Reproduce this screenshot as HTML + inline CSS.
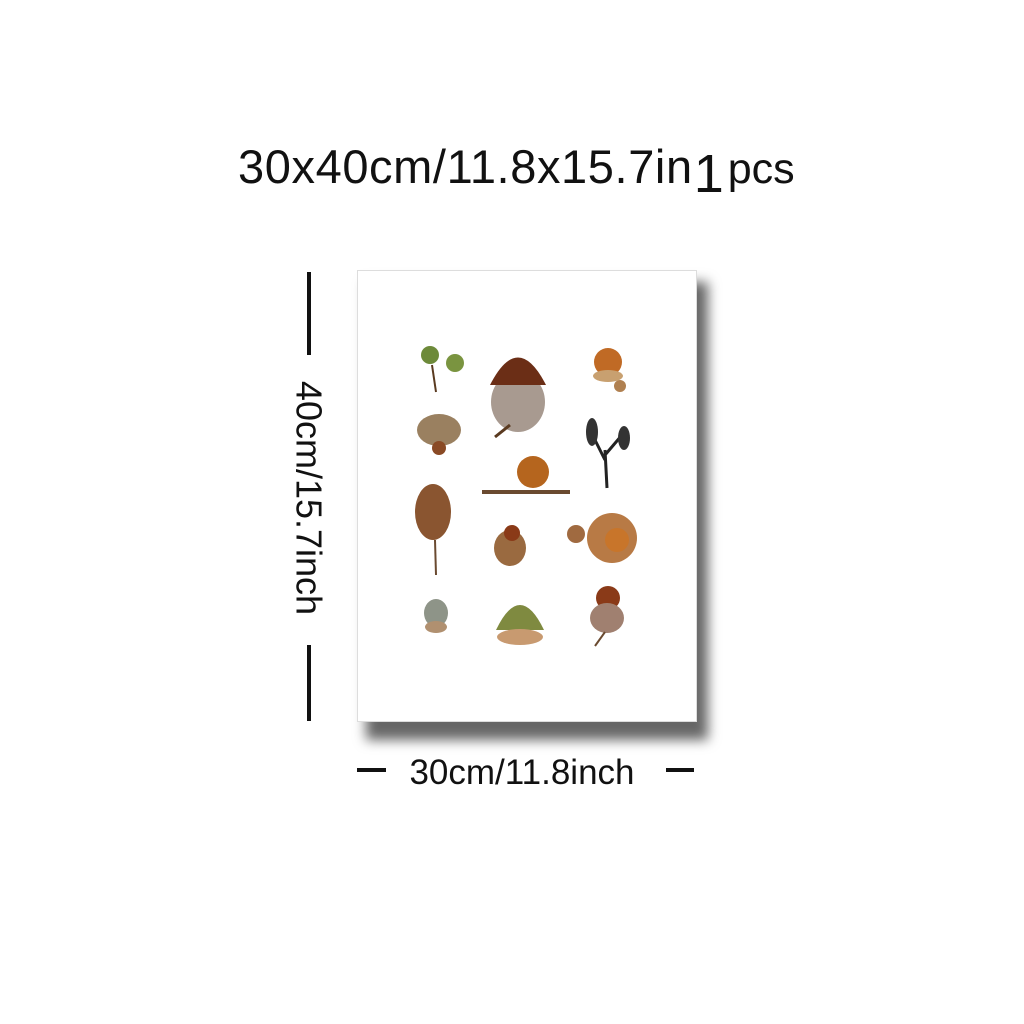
<!DOCTYPE html>
<html><head><meta charset="utf-8"><style>
body{margin:0;width:1024px;height:1024px;background:#fff;position:relative;overflow:hidden;font-family:"Liberation Sans",sans-serif}
.a{position:absolute}
</style></head><body>
<div class="a" style="left:238px;top:137px;font-size:47px;letter-spacing:0.6px;color:#111;white-space:nowrap;line-height:56px">30x40cm/11.8x15.7in<span style="font-size:54px;position:relative;top:9px;margin:0 4px 0 1px;letter-spacing:0">1</span><span style="font-size:43px;letter-spacing:0">pcs</span></div>
<div class="a" style="left:366px;top:282px;width:342px;height:458px;background:#666;filter:blur(6px)"></div>
<div class="a" style="left:357px;top:270px;width:340px;height:452px;background:#fff;border:1px solid #ddd;box-sizing:border-box"></div>
<svg class="a" style="left:0;top:0" width="1024" height="1024">
<g><circle cx="430" cy="355" r="9" fill="#6d8a3a"/><circle cx="455" cy="363" r="9" fill="#7a9440"/><path d="M432 365 L436 392" stroke="#5a3a20" stroke-width="2"/></g>
<g><ellipse cx="518" cy="402" rx="27" ry="30" fill="#a89a90"/><path d="M490 385 Q518 330 546 385 Z" fill="#6b2e16"/><path d="M510 425 L495 437" stroke="#5a3a20" stroke-width="3"/></g>
<g><circle cx="608" cy="362" r="14" fill="#c06a25"/><ellipse cx="608" cy="376" rx="15" ry="6" fill="#c8a070"/><circle cx="620" cy="386" r="6" fill="#b08050"/></g>
<g><ellipse cx="439" cy="430" rx="22" ry="16" fill="#9a8060"/><circle cx="439" cy="448" r="7" fill="#8a4a25"/></g>
<g><path d="M607 488 L605 450 M605 460 L590 430 M605 455 L622 435" stroke="#222" stroke-width="3"/><ellipse cx="592" cy="432" rx="6" ry="14" fill="#333"/><ellipse cx="624" cy="438" rx="6" ry="12" fill="#333"/></g>
<g><circle cx="533" cy="472" r="16" fill="#b5651e"/><path d="M482 492 L570 492" stroke="#6a4a30" stroke-width="4"/></g>
<g><ellipse cx="433" cy="512" rx="18" ry="28" fill="#8a5530"/><path d="M435 540 L436 575" stroke="#6a4a30" stroke-width="2"/></g>
<g><ellipse cx="510" cy="548" rx="16" ry="18" fill="#9a6a40"/><circle cx="512" cy="533" r="8" fill="#8a3a18"/></g>
<g><circle cx="612" cy="538" r="25" fill="#b87a45"/><circle cx="617" cy="540" r="12" fill="#c8752a"/><circle cx="576" cy="534" r="9" fill="#a06a40"/></g>
<g><ellipse cx="436" cy="613" rx="12" ry="14" fill="#8e9488"/><ellipse cx="436" cy="627" rx="11" ry="6" fill="#b09070"/></g>
<g><path d="M496 630 Q520 580 544 630 Z" fill="#7f8a40"/><ellipse cx="520" cy="637" rx="23" ry="8" fill="#c89a70"/></g>
<g><circle cx="608" cy="598" r="12" fill="#8a3a18"/><ellipse cx="607" cy="618" rx="17" ry="15" fill="#a08070"/><path d="M605 632 L595 646" stroke="#6a4a30" stroke-width="2"/></g>
<g stroke="#111" stroke-width="4">
<line x1="309" y1="272" x2="309" y2="355"/><line x1="309" y1="645" x2="309" y2="721"/>
<line x1="357" y1="770" x2="386" y2="770"/><line x1="666" y1="770" x2="694" y2="770"/></g>
<text x="309" y="498" transform="rotate(90 309 498)" text-anchor="middle" dominant-baseline="central" font-family="Liberation Sans" font-size="36" fill="#111">40cm/15.7inch</text>
<text x="522" y="784" text-anchor="middle" font-family="Liberation Sans" font-size="35" fill="#111">30cm/11.8inch</text>
</svg>
</body></html>
